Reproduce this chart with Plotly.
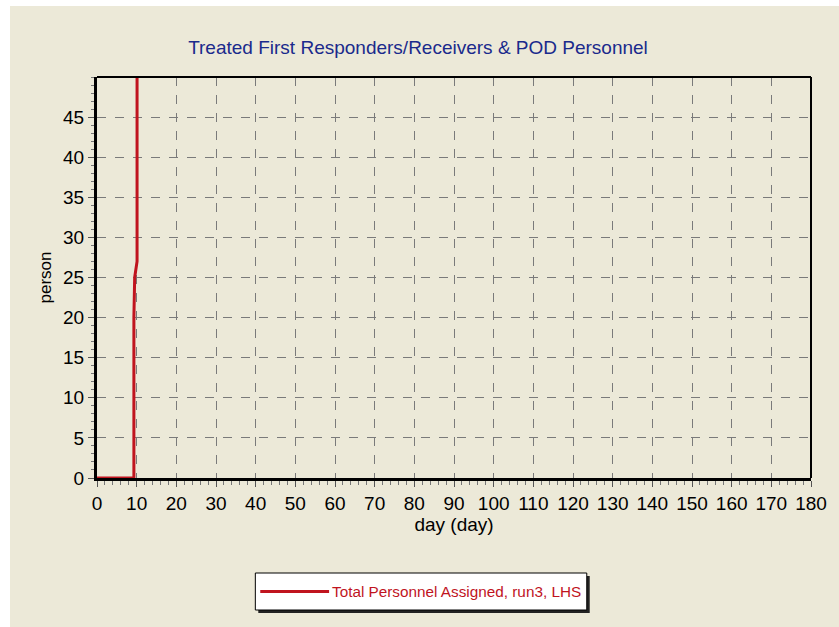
import plotly.graph_objects as go

# Data
days = [0, 9.3, 9.3, 9.5, 10.1, 10.1]
persons = [0, 0, 20, 25, 27, 60]
series_name = "Total Personnel Assigned, run3, LHS"
x_ticks = list(range(0, 181, 10))
y_ticks = list(range(0, 46, 5))

bg = "#ECE9D8"
red = "#C0141E"
font = "Liberation Sans, Arial, sans-serif"

# page layout: white border of 6px on top and 10px on left, as in the reference
OX, OY = 10, 6
W, H = 839 - OX, 627 - OY
# plot area in page pixels
PL, PR, PT, PB = 97, 823, 77, 478
PW, PH = PR - PL, PB - PT


def px_x(x):
    return (x - PL) / PW


def px_y(y):
    return (PB - y) / PH


fig = go.Figure()
fig.add_trace(go.Scatter(
    x=days, y=persons, mode="lines", name=series_name,
    line=dict(color=red, width=3), showlegend=False,
))

fig.update_layout(
    width=W, height=H,
    paper_bgcolor=bg, plot_bgcolor=bg,
    margin=dict(l=PL - OX, r=W + OX - PR, t=PT - OY, b=H + OY - PB),
    font=dict(family=font, size=19, color="black"),
    title=dict(text="Treated First Responders/Receivers & POD Personnel",
               x=(418 - OX) / W, xanchor="center", y=1 - (47 - OY) / H, yanchor="middle",
               font=dict(family=font, size=19, color="#1A2A8C")),
    showlegend=False,
    xaxis=dict(range=[0, 180], tickvals=x_ticks, showgrid=True, gridcolor="#7A7A7A",
               griddash="dash", gridwidth=1, showline=True, linecolor="black", linewidth=3,
               ticks="outside", ticklen=6, tickcolor="#555", zeroline=False,
               minor=dict(dtick=2, ticks="outside", ticklen=4, tickcolor="#777", showgrid=False),
               title=dict(text="day (day)", font=dict(family=font, size=19), standoff=4)),
    yaxis=dict(range=[0, 50], tickvals=y_ticks, showgrid=True, gridcolor="#7A7A7A",
               griddash="dash", gridwidth=1, showline=True, linecolor="black", linewidth=3,
               ticks="outside", ticklen=6, tickcolor="#555", zeroline=False,
               minor=dict(dtick=1, ticks="outside", ticklen=3, tickcolor="#777", showgrid=False),
               title=dict(text="person", font=dict(family=font, size=17), standoff=8)),
)

# thin top and right frame lines
fig.add_shape(type="line", xref="paper", yref="paper", x0=0, x1=1, y0=1, y1=1,
              line=dict(color="black", width=2))
fig.add_shape(type="line", xref="paper", yref="paper", x0=1, x1=1, y0=0, y1=1,
              line=dict(color="black", width=2))

# legend box (drawn by hand to match the long line sample), with drop shadow
fig.add_shape(type="rect", xref="paper", yref="paper",
              x0=px_x(261), x1=px_x(598), y0=px_y(613), y1=px_y(576),
              line=dict(width=0), fillcolor="#222222")
fig.add_shape(type="rect", xref="paper", yref="paper",
              x0=px_x(258), x1=px_x(595), y0=px_y(610), y1=px_y(573),
              line=dict(width=1, color="black"), fillcolor="white")
fig.add_shape(type="line", xref="paper", yref="paper",
              x0=px_x(263), x1=px_x(333), y0=px_y(591.5), y1=px_y(591.5),
              line=dict(width=3, color=red))
fig.add_annotation(text=series_name, xref="paper", yref="paper",
                   x=px_x(334), y=px_y(591.5), xanchor="left", yanchor="middle",
                   showarrow=False, font=dict(family=font, size=15.3, color=red))

fig.write_html("out.html",
               post_script="document.body.style.margin='6px 0 0 10px';"
                           "document.body.style.overflow='hidden';")
